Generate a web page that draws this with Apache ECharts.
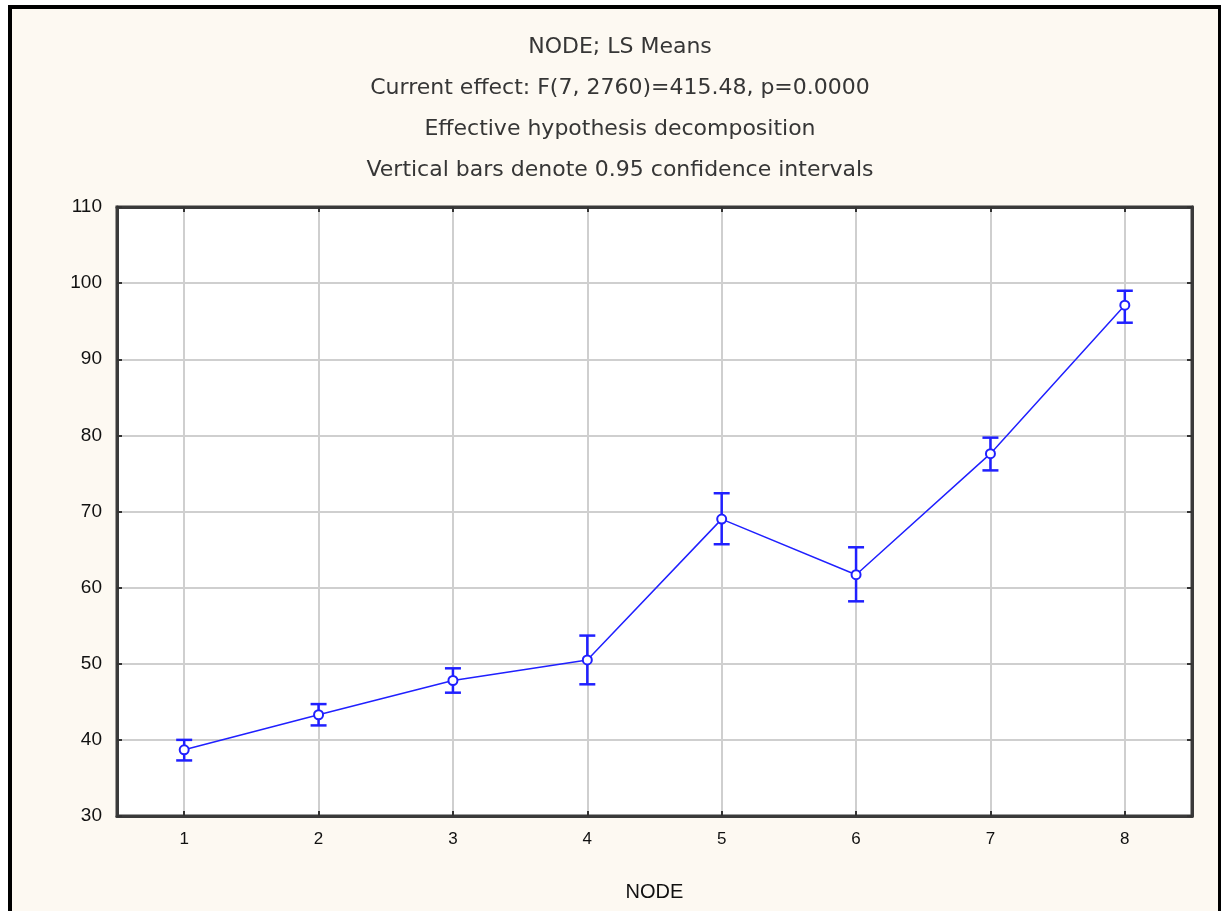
<!DOCTYPE html>
<html>
<head>
<meta charset="utf-8">
<script src="https://cdn.jsdelivr.net/npm/echarts@6/dist/echarts.min.js"></script>
<style>
  html, body { margin: 0; padding: 0; background: #ffffff; width: 1221px; height: 911px; overflow: hidden; }
  #frame { position: absolute; left: 8px; top: 5px; width: 1213px; height: 920px; box-sizing: border-box;
           border-left: 4px solid #000; border-top: 4px solid #000; border-right: 3px solid #000; background: #fdf9f2; }
  #chart { position: absolute; left: 0; top: 0; width: 1221px; height: 911px; }
</style>
</head>
<body>
<div id="frame"></div>
<div id="chart"></div>
<script>
const categories = ['1', '2', '3', '4', '5', '6', '7', '8'];
const means = [38.7, 43.3, 47.8, 50.5, 69.0, 61.7, 77.6, 97.1];
const lower = [37.3, 41.9, 46.2, 47.3, 65.7, 58.2, 75.4, 94.8];
const upper = [40.0, 44.7, 49.4, 53.7, 72.4, 65.3, 79.7, 99.0];
const yTicks = { min: 30, max: 110, interval: 10 };
const titleLines = [
  'NODE; LS Means',
  'Current effect: F(7, 2760)=415.48, p=0.0000',
  'Effective hypothesis decomposition',
  'Vertical bars denote 0.95 confidence intervals'
];
const xName = 'NODE';

const blue = '#2020ff';
const frameColor = '#3a3a3a';
const errData = categories.map((c, i) => [i, lower[i], upper[i]]);

const chart = echarts.init(document.getElementById('chart'), null, { renderer: 'canvas' });
chart.setOption({
  backgroundColor: 'transparent',
  animation: false,
  title: {
    text: titleLines.join('\n'),
    left: 615,
    textAlign: 'center',
    top: 22,
    textStyle: { fontFamily: 'DejaVu Sans', fontSize: 22, fontWeight: 'normal', color: '#363636', lineHeight: 41 }
  },
  grid: {
    left: 117, top: 207, width: 1075, height: 609,
    show: true, backgroundColor: '#ffffff', borderColor: frameColor, borderWidth: 3
  },
  xAxis: [
    {
      type: 'category', data: categories, boundaryGap: true, position: 'bottom',
      axisLine: { show: true, lineStyle: { color: frameColor, width: 3 } },
      axisTick: { show: true, inside: true, length: 5, alignWithLabel: true, lineStyle: { color: '#333', width: 2 } },
      axisLabel: { fontFamily: 'Liberation Sans', fontSize: 17, margin: 15, color: '#111' },
      splitLine: { show: true, alignWithLabel: true, lineStyle: { color: '#cfcfcf', width: 2 } },
      name: xName, nameLocation: 'middle', nameGap: 66,
      nameTextStyle: { fontFamily: 'Liberation Sans', fontSize: 20, color: '#111' }
    },
    {
      type: 'category', data: categories, boundaryGap: true, position: 'top',
      axisLine: { show: true, lineStyle: { color: frameColor, width: 3 } },
      axisTick: { show: true, inside: true, length: 5, alignWithLabel: true, lineStyle: { color: '#333', width: 2 } },
      axisLabel: { show: false },
      splitLine: { show: false }
    }
  ],
  yAxis: [
    {
      type: 'value', min: yTicks.min, max: yTicks.max, interval: yTicks.interval, position: 'left',
      axisLine: { show: true, lineStyle: { color: frameColor, width: 3 } },
      axisTick: { show: true, inside: true, length: 5, lineStyle: { color: '#333', width: 2 } },
      axisLabel: { fontFamily: 'Liberation Sans', fontSize: 19, margin: 15, color: '#111' },
      splitLine: { show: true, lineStyle: { color: '#cfcfcf', width: 2 } }
    },
    {
      type: 'value', min: yTicks.min, max: yTicks.max, interval: yTicks.interval, position: 'right',
      axisLine: { show: true, lineStyle: { color: frameColor, width: 3 } },
      axisTick: { show: true, inside: true, length: 5, lineStyle: { color: '#333', width: 2 } },
      axisLabel: { show: false },
      splitLine: { show: false }
    }
  ],
  series: [
    {
      type: 'custom', xAxisIndex: 0, yAxisIndex: 0, z: 2, silent: true,
      data: errData,
      renderItem: function (params, api) {
        const x = api.value(0);
        const lo = api.coord([x, api.value(1)]);
        const hi = api.coord([x, api.value(2)]);
        const hw = 8;
        const style = { stroke: blue, lineWidth: 2.5, fill: null };
        return {
          type: 'group',
          children: [
            { type: 'line', shape: { x1: lo[0], y1: lo[1], x2: hi[0], y2: hi[1] }, style: style },
            { type: 'line', shape: { x1: lo[0] - hw, y1: lo[1], x2: lo[0] + hw, y2: lo[1] }, style: style },
            { type: 'line', shape: { x1: hi[0] - hw, y1: hi[1], x2: hi[0] + hw, y2: hi[1] }, style: style }
          ]
        };
      }
    },
    {
      type: 'line', xAxisIndex: 0, yAxisIndex: 0, z: 3, silent: true,
      data: means,
      symbol: 'circle', symbolSize: 9,
      lineStyle: { color: blue, width: 1.5 },
      itemStyle: { color: '#ffffff', borderColor: blue, borderWidth: 2 }
    }
  ]
});
</script>
</body>
</html>
